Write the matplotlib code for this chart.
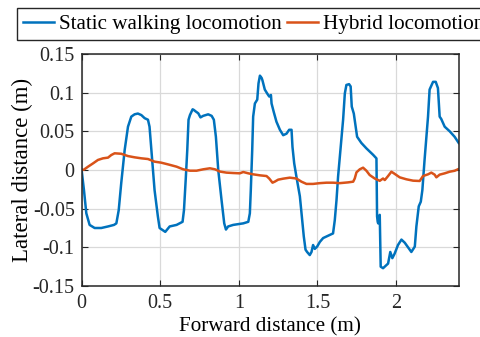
import matplotlib
matplotlib.use("Agg")
import matplotlib.pyplot as plt
from matplotlib.ticker import FixedLocator, FixedFormatter

plt.rcParams["font.family"] = ["Liberation Serif", "DejaVu Serif"]
plt.rcParams["axes.unicode_minus"] = False

# Lateral deviation vs forward distance for the two gaits
static_x = [0, 0.015, 0.030, 0.051, 0.083, 0.125, 0.168, 0.206, 0.221, 0.236, 0.252, 0.274,
            0.295, 0.316, 0.337, 0.358, 0.380, 0.401, 0.422, 0.432, 0.447, 0.464, 0.485,
            0.496, 0.517, 0.532, 0.560, 0.604, 0.642, 0.651, 0.663, 0.672, 0.680, 0.689,
            0.706, 0.714, 0.727, 0.742, 0.756, 0.773, 0.805, 0.827, 0.841, 0.854, 0.869,
            0.890, 0.907, 0.918, 0.932, 0.964, 0.996, 1.028, 1.060, 1.070, 1.076, 1.085,
            1.091, 1.102, 1.117, 1.125, 1.134, 1.145, 1.150, 1.165, 1.180, 1.193, 1.204,
            1.208, 1.222, 1.239, 1.261, 1.282, 1.303, 1.320, 1.335, 1.341, 1.352, 1.366,
            1.388, 1.405, 1.413, 1.424, 1.434, 1.451, 1.462, 1.472, 1.483, 1.498, 1.515,
            1.536, 1.557, 1.578, 1.599, 1.610, 1.621, 1.631, 1.646, 1.663, 1.674, 1.684,
            1.701, 1.711, 1.718, 1.731, 1.752, 1.779, 1.811, 1.854, 1.875, 1.879, 1.883,
            1.886, 1.896, 1.902, 1.917, 1.949, 1.963, 1.976, 1.991, 2.012, 2.034, 2.055,
            2.076, 2.097, 2.119, 2.129, 2.144, 2.157, 2.167, 2.181, 2.203, 2.213, 2.235,
            2.252, 2.266, 2.277, 2.287, 2.309, 2.341, 2.372, 2.398]
static_y = [0, -0.026, -0.056, -0.071, -0.075, -0.075, -0.073, -0.071, -0.069, -0.052, -0.017,
            0.026, 0.056, 0.069, 0.072, 0.073, 0.071, 0.067, 0.065, 0.056, 0.017, -0.026,
            -0.060, -0.075, -0.078, -0.080, -0.073, -0.071, -0.067, -0.052, -0.009, 0.026,
            0.065, 0.071, 0.0785, 0.0776, 0.0755, 0.0733, 0.068, 0.070, 0.072, 0.070, 0.065,
            0.043, 0.0, -0.039, -0.069, -0.077, -0.073, -0.071, -0.070, -0.069, -0.067,
            -0.056, -0.026, 0.026, 0.069, 0.086, 0.091, 0.112, 0.122, 0.119, 0.116, 0.104,
            0.099, 0.095, 0.097, 0.086, 0.075, 0.0625, 0.052, 0.045, 0.047, 0.052, 0.052,
            0.030, 0.0086, -0.0086, -0.034, -0.069, -0.086, -0.103, -0.106, -0.110, -0.106,
            -0.097, -0.102, -0.099, -0.093, -0.088, -0.086, -0.084, -0.082, -0.065, -0.039,
            -0.0086, 0.026, 0.065, 0.099, 0.110, 0.111, 0.108, 0.082, 0.073, 0.043, 0.035,
            0.028, 0.0196, 0.015, -0.060, -0.067, -0.069, -0.058, -0.125, -0.127, -0.121,
            -0.106, -0.114, -0.108, -0.097, -0.090, -0.094, -0.100, -0.106, -0.099, -0.073,
            -0.047, -0.041, -0.026, 0.013, 0.069, 0.104, 0.114, 0.114, 0.106, 0.069, 0.066,
            0.056, 0.050, 0.043, 0.035]

hybrid_x = [0, 0.015, 0.041, 0.073, 0.104, 0.136, 0.168, 0.189, 0.210, 0.252, 0.295, 0.337,
            0.380, 0.422, 0.464, 0.506, 0.549, 0.604, 0.646, 0.689, 0.731, 0.774, 0.816,
            0.848, 0.879, 0.921, 0.964, 1.006, 1.028, 1.060, 1.091, 1.134, 1.176, 1.193,
            1.214, 1.229, 1.250, 1.282, 1.324, 1.366, 1.398, 1.430, 1.472, 1.515, 1.557,
            1.600, 1.642, 1.695, 1.727, 1.737, 1.748, 1.769, 1.790, 1.811, 1.832, 1.864,
            1.896, 1.917, 1.928, 1.949, 1.970, 1.991, 2.023, 2.065, 2.108, 2.150, 2.171,
            2.203, 2.224, 2.245, 2.256, 2.277, 2.309, 2.341, 2.372, 2.393]
hybrid_y = [0, 0.0005, 0.0043, 0.0086, 0.013, 0.0151, 0.0160, 0.0194, 0.0216, 0.021, 0.018,
            0.0164, 0.0151, 0.0142, 0.0108, 0.0095, 0.0073, 0.0043, 0.0009, -0.0009, -0.0009,
            0.0009, 0.0022, 0.0009, -0.002, -0.0034, -0.0039, -0.0043, -0.0026, -0.0043,
            -0.0056, -0.0069, -0.0078, -0.011, -0.0164, -0.015, -0.0125, -0.0112, -0.0099,
            -0.011, -0.0151, -0.018, -0.018, -0.017, -0.0164, -0.0164, -0.017, -0.016,
            -0.0151, -0.011, -0.003, 0.0009, 0.003, -0.0009, -0.0065, -0.011, -0.014, -0.011,
            -0.013, -0.0078, -0.0022, -0.005, -0.0095, -0.012, -0.0138, -0.0142, -0.0078,
            -0.0056, -0.0034, -0.0060, -0.0095, -0.006, -0.0043, -0.0022, -0.001, 0.0009]

series_labels = ["Static walking locomotion", "Hybrid locomotion"]
x_ticks = [0, 0.5, 1, 1.5, 2]
x_tick_labels = ["0", "0.5", "1", "1.5", "2"]
y_ticks = [-0.15, -0.1, -0.05, 0, 0.05, 0.1, 0.15]
y_tick_labels = ["-0.15", "-0.1", "-0.05", "0", "0.05", "0.1", "0.15"]

fig = plt.figure(figsize=(4.81, 3.37), dpi=100)
ax = fig.add_axes([81.6 / 481, 51 / 337, (459 - 81.6) / 481, (286 - 54) / 337])

l1, = ax.plot(static_x, static_y, color="#0072BD", lw=1.8, label=series_labels[0])
l2, = ax.plot(hybrid_x, hybrid_y, color="#D95319", lw=1.8, label=series_labels[1])

ax.set_xlim(0, 2.4)
ax.set_ylim(-0.15, 0.15)
ax.xaxis.set_major_locator(FixedLocator(x_ticks))
ax.xaxis.set_major_formatter(FixedFormatter(x_tick_labels))
ax.yaxis.set_major_locator(FixedLocator(y_ticks))
ax.yaxis.set_major_formatter(FixedFormatter(y_tick_labels))
ax.tick_params(direction="in", top=True, right=True, labelsize=14.5, length=4,
               width=0.8, colors="#262626", pad=5)
ax.tick_params(axis="x", pad=6)
ax.grid(True, color="#d9d9d9", lw=0.9)
ax.set_axisbelow(True)
for s in ax.spines.values():
    s.set_color("#262626")
    s.set_linewidth(1.1)

ax.set_xlabel("Forward distance (m)", fontsize=15.2, labelpad=3)
ax.set_ylabel("Lateral distance (m)", fontsize=16.5, labelpad=0)

leg = fig.legend(handles=[l1, l2], loc="upper left", bbox_to_anchor=(17 / 481, 1 - 8 / 337),
                 ncol=2, fontsize=15.2, frameon=True, fancybox=False, framealpha=1,
                 edgecolor="#262626", handlelength=1.45, handletextpad=0.25,
                 columnspacing=0.25, borderpad=0.3, borderaxespad=0)
leg.get_frame().set_linewidth(1.0)

fig.savefig("out.png", dpi=100)
